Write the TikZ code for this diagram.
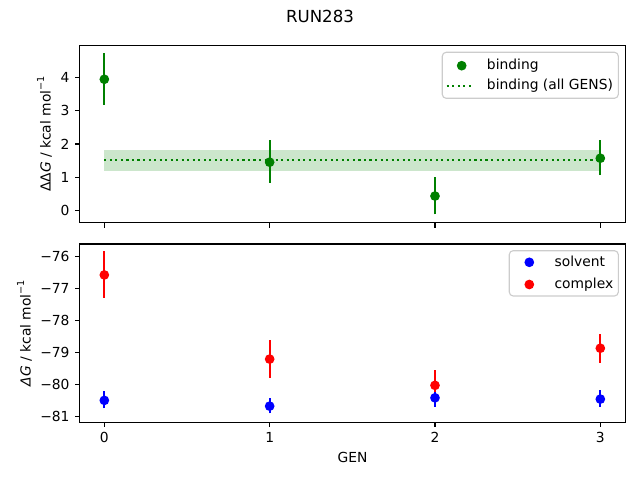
\documentclass[tikz,border=0pt]{standalone}
\usepackage{fontspec}
\setmainfont{DejaVu Sans}
\definecolor{mgreen}{RGB}{0,128,0}
\definecolor{mblue}{RGB}{0,0,255}
\definecolor{mred}{RGB}{255,0,0}
\definecolor{bandfill}{RGB}{204,230,204}
\definecolor{legedge}{RGB}{204,204,204}
\newcommand{\tfs}{\fontsize{10}{12}\selectfont}
\newcommand{\supm}{\raisebox{4.6bp}{\fontsize{7}{8}\selectfont −1}}
\begin{document}
\begin{tikzpicture}[x=0.01in,y=-0.01in,
  declare function={gx(\g)=104.33+165.33*\g; ty(\v)=210.3-33.17*\v; by(\v)=256.7-32*(\v+76);},
  spine/.style={line width=0.8bp,black},
  tickmark/.style={line width=0.8bp,black},
  ebar/.style={line width=1.5bp},
  ticklab/.style={inner sep=0pt,font=\tfs},
  legframe/.style={draw=legedge,line width=0.8bp,fill=white,fill opacity=0.8,rounded corners=2.8},
  dotline/.style={mgreen,line width=1.5bp,dash pattern=on 1.5bp off 2.475bp}]
\useasboundingbox (0,0) rectangle (640,480);
\def\mr{3.5bp}
% title
\node[inner sep=0pt,anchor=base,font=\fontsize{12}{14}\selectfont] (title) at (320,22.7) {RUN283};

% ===== top axes =====
\fill[bandfill] ({gx(0)},{ty(1.19)}) rectangle ({gx(3)},{ty(1.82)});
\draw[dotline] ({gx(0)},{ty(1.51)}) -- ({gx(3)},{ty(1.51)});
\foreach \g/\v/\lo/\hi in {0/3.95/3.18/4.73, 1/1.45/0.83/2.12, 2/0.43/-0.12/1.01, 3/1.57/1.06/2.12}{
  \draw[ebar,mgreen] ({gx(\g)},{ty(\lo)}) -- ({gx(\g)},{ty(\hi)});
  \fill[mgreen] ({gx(\g)},{ty(\v)}) circle[radius=\mr];
}
\draw[spine] (79.5,45.3) rectangle (625.5,222.7);
\foreach \g in {0,1,2,3}{
  \draw[tickmark] ({gx(\g)},222.7) -- ({gx(\g)},227.56);
}
\foreach \v in {0,1,2,3,4}{
  \draw[tickmark] (79.5,{ty(\v)}) -- (74.64,{ty(\v)});
  \node[ticklab,anchor=base east] at (69.8,{ty(\v)+5.05}) {\v};
}
\node[inner sep=0pt,anchor=base,rotate=90,font=\tfs] (ylab1) at (50.5,134) {ΔΔ\textit{G} / kcal mol\supm};
% legend top
\draw[legframe] (442.3,52.3) rectangle (618.3,98.3);
\fill[mgreen] (461.7,65.7) circle[radius=\mr];
\node[ticklab,anchor=base west] (l1) at (486.7,70) {binding};
\draw[dotline] (446.7,85.7) -- (474.3,85.7);
\node[ticklab,anchor=base west] (l2) at (486.7,89.7) {binding (all GENS)};

% ===== bottom axes =====
\foreach \g/\v/\lo/\hi in {0/-76.57/-77.28/-75.82, 1/-79.2/-79.78/-78.6, 2/-80.02/-80.48/-79.54, 3/-78.86/-79.31/-78.42}{
  \draw[ebar,mred] ({gx(\g)},{by(\lo)}) -- ({gx(\g)},{by(\hi)});
  \fill[mred] ({gx(\g)},{by(\v)}) circle[radius=\mr];
}
\foreach \g/\v/\lo/\hi in {0/-80.49/-80.74/-80.2, 1/-80.67/-80.9/-80.43, 2/-80.41/-80.69/-80.22, 3/-80.45/-80.69/-80.17}{
  \draw[ebar,mblue] ({gx(\g)},{by(\lo)}) -- ({gx(\g)},{by(\hi)});
  \fill[mblue] ({gx(\g)},{by(\v)}) circle[radius=\mr];
}
\draw[spine] (79.5,244) rectangle (625.5,422.3);
\foreach \g in {0,1,2,3}{
  \draw[tickmark] ({gx(\g)},422.3) -- ({gx(\g)},427.16);
  \node[ticklab,anchor=base] at ({gx(\g)},442.3) {\g};
}
\foreach \v in {76,77,78,79,80,81}{
  \draw[tickmark] (79.5,{by(-\v)}) -- (74.64,{by(-\v)});
  \node[ticklab,anchor=base east] at (69.8,{by(-\v)+5.05}) {−\v};
}
\node[inner sep=0pt,anchor=base,rotate=90,font=\tfs] (ylab2) at (30.5,333.2) {\textit{ΔG} / kcal mol\supm};
\node[ticklab,anchor=base] (xlab) at (352.5,462.5) {GEN};
% legend bottom
\draw[legframe] (509.3,250.7) rectangle (618.3,296);
\fill[mblue] (529.3,262.3) circle[radius=\mr];
\node[ticklab,anchor=base west] (l3) at (554.3,266.7) {solvent};
\fill[mred] (529.3,284.5) circle[radius=\mr];
\node[ticklab,anchor=base west] (l4) at (554.3,288.3) {complex};
\end{tikzpicture}
\end{document}
